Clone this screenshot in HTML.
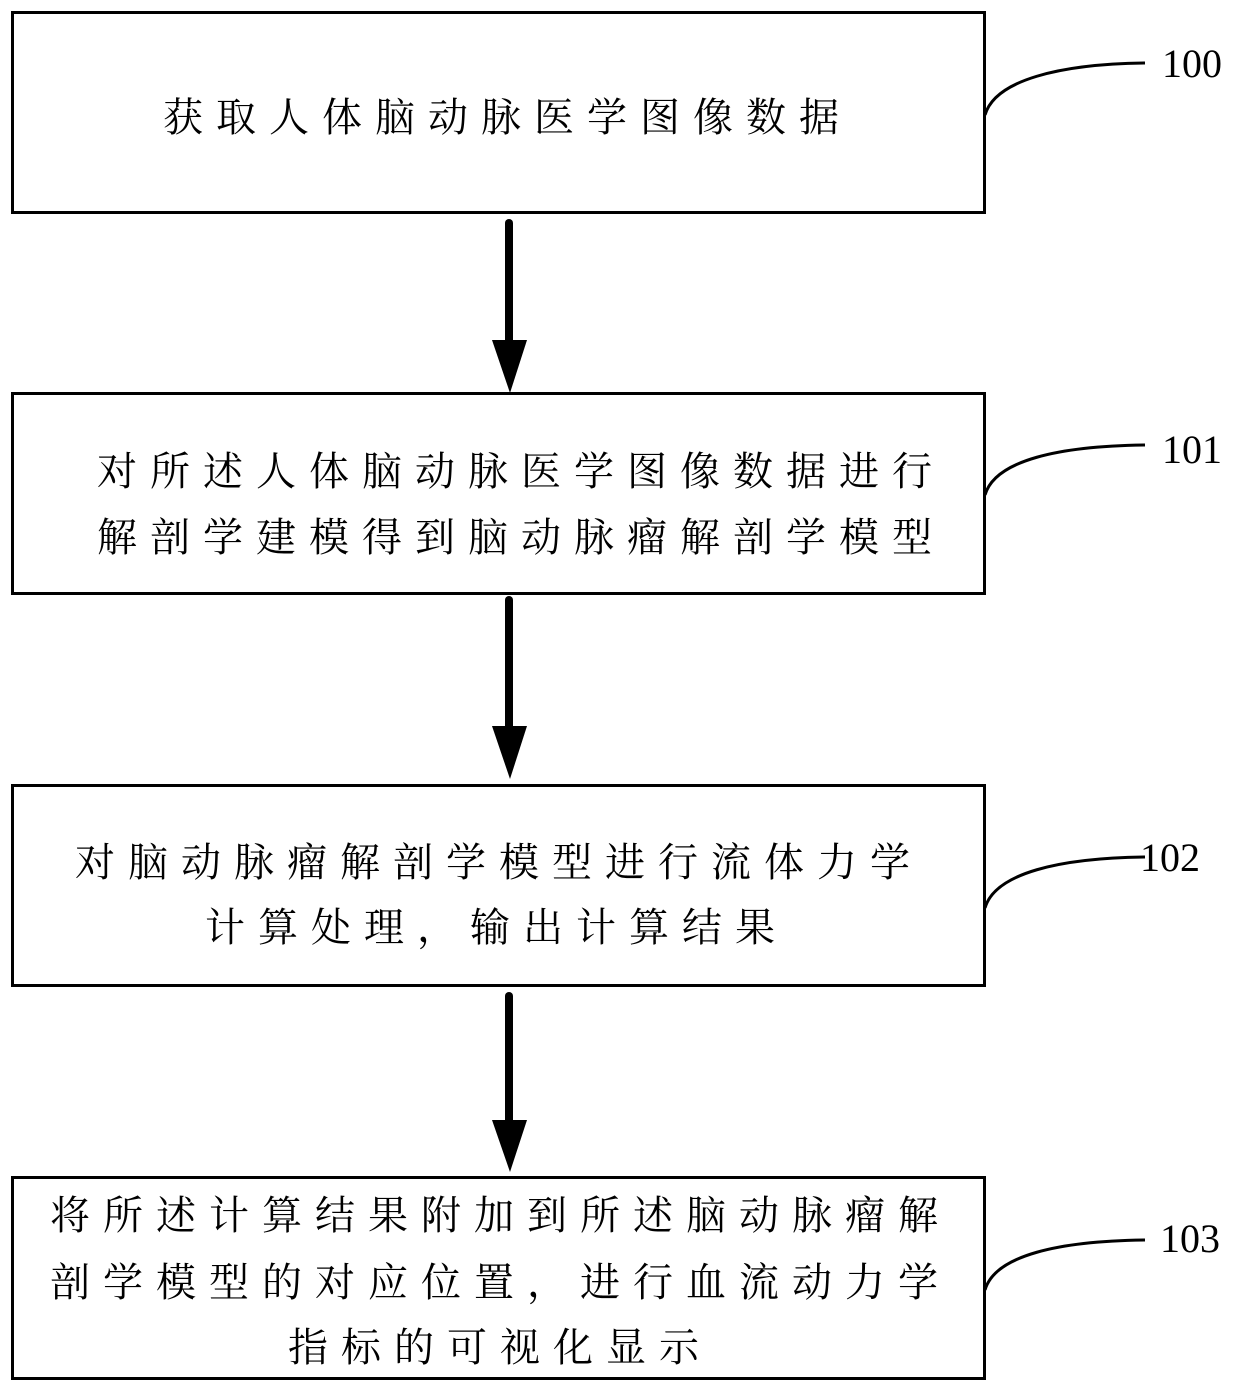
<!DOCTYPE html>
<html><head><meta charset="utf-8"><style>
html,body{margin:0;padding:0;background:#fff;}
svg text{font-family:"Liberation Serif","Noto Serif CJK SC",serif;fill:#000;}
.t{font-size:40px;letter-spacing:13px;}
.n{font-size:40px;font-family:"Liberation Serif",serif;}
</style></head><body>
<svg width="1240" height="1391" viewBox="0 0 1240 1391" xmlns="http://www.w3.org/2000/svg">
<g fill="none" stroke="#000" stroke-width="3">
<rect x="12.5" y="12.5" width="972" height="200"/>
<rect x="12.5" y="393.5" width="972" height="200"/>
<rect x="12.5" y="785.5" width="972" height="200"/>
<rect x="12.5" y="1177.5" width="972" height="201"/>
<path d="M985 115 C995 80 1060 64 1145 63"/>
<path d="M985 495 C995 460 1060 446 1145 445"/>
<path d="M985 908 C995 873 1060 858 1145 857"/>
<path d="M985 1290 C995 1255 1060 1241 1145 1240"/>
</g>
<g stroke="#000" stroke-width="8" stroke-linecap="round">
<line x1="509" y1="223" x2="509" y2="345"/>
<line x1="509" y1="600" x2="509" y2="730"/>
<line x1="509" y1="996" x2="509" y2="1125"/>
</g>
<g fill="#000">
<polygon points="492,340 527,340 510,393"/>
<polygon points="492,726 527,726 510,779"/>
<polygon points="492,1120 527,1120 510,1172"/>
</g>
<text class="n" x="1162" y="77">100</text>
<text class="n" x="1162" y="463">101</text>
<text class="n" x="1140" y="871">102</text>
<text class="n" x="1160" y="1252">103</text>
<text class="t" x="163" y="131">获取人体脑动脉医学图像数据</text>
<text class="t" x="97" y="485">对所述人体脑动脉医学图像数据进行</text>
<text class="t" x="97" y="551">解剖学建模得到脑动脉瘤解剖学模型</text>
<text class="t" x="75" y="876">对脑动脉瘤解剖学模型进行流体力学</text>
<text class="t" x="205" y="941">计算处理，输出计算结果</text>
<text class="t" x="50" y="1229">将所述计算结果附加到所述脑动脉瘤解</text>
<text class="t" x="50" y="1296">剖学模型的对应位置，进行血流动力学</text>
<text class="t" x="288" y="1361">指标的可视化显示</text>
</svg>
</body></html>
